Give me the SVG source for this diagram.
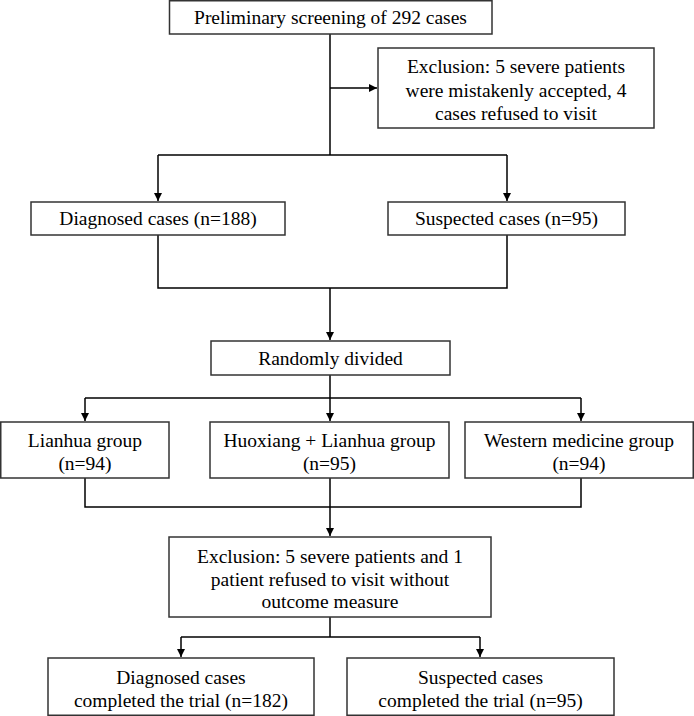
<svg xmlns="http://www.w3.org/2000/svg" width="694" height="716" viewBox="0 0 694 716">
<defs>
<style>
.box{fill:#fff;stroke:#333;stroke-width:1.5}
.t{font-family:"Liberation Serif","Times New Roman",serif;font-size:19.5px;fill:#000;text-anchor:middle}
.c{fill:none;stroke:#000;stroke-width:1.5}
</style>
<marker id="ah" viewBox="0 0 10 10" refX="10" refY="5" markerWidth="8" markerHeight="8" markerUnits="userSpaceOnUse" orient="auto">
<path d="M0,0 L10,5 L0,10 Z" fill="#000"/>
</marker>
</defs>
<rect width="694" height="716" fill="#fff"/>
<g id="connectors">
<path class="c" d="M330,34 V155"/>
<path class="c" d="M330,88 H377" marker-end="url(#ah)"/>
<path class="c" d="M158,155 H507"/>
<path class="c" d="M158,155 V201" marker-end="url(#ah)"/>
<path class="c" d="M507,155 V201" marker-end="url(#ah)"/>
<path class="c" d="M158,235 V288 H507 V235"/>
<path class="c" d="M330,288 V340" marker-end="url(#ah)"/>
<path class="c" d="M330,375 V398"/>
<path class="c" d="M85,398 H581"/>
<path class="c" d="M85,398 V421" marker-end="url(#ah)"/>
<path class="c" d="M330,398 V421" marker-end="url(#ah)"/>
<path class="c" d="M581,398 V421" marker-end="url(#ah)"/>
<path class="c" d="M85,478 V507 H581 V478"/>
<path class="c" d="M330,478 V536" marker-end="url(#ah)"/>
<path class="c" d="M330,617 V637"/>
<path class="c" d="M181,637 H480"/>
<path class="c" d="M181,637 V657" marker-end="url(#ah)"/>
<path class="c" d="M480,637 V657" marker-end="url(#ah)"/>
</g>
<g id="n1"><rect class="box" x="169.5" y="0.75" width="322.5" height="33.25"/><text class="t" x="330.5" y="24">Preliminary screening of 292 cases</text></g>
<g id="n2"><rect class="box" x="378" y="48" width="276" height="80"/><text class="t" x="516" y="73">Exclusion: 5 severe patients</text><text class="t" x="516" y="96.5">were mistakenly accepted, 4</text><text class="t" x="516" y="120">cases refused to visit</text></g>
<g id="n3"><rect class="box" x="31" y="202" width="254" height="33"/><text class="t" x="158" y="225">Diagnosed cases (n=188)</text></g>
<g id="n4"><rect class="box" x="388" y="202" width="237" height="33"/><text class="t" x="506.5" y="225">Suspected cases (n=95)</text></g>
<g id="n5"><rect class="box" x="211" y="341" width="239" height="34"/><text class="t" x="330.5" y="365">Randomly divided</text></g>
<g id="n6"><rect class="box" x="0.75" y="422" width="168.25" height="56"/><text class="t" x="85" y="447">Lianhua group</text><text class="t" x="85" y="470">(n=94)</text></g>
<g id="n7"><rect class="box" x="210" y="422" width="239" height="56"/><text class="t" x="329.5" y="447">Huoxiang + Lianhua group</text><text class="t" x="329.5" y="470">(n=95)</text></g>
<g id="n8"><rect class="box" x="465" y="422" width="228.25" height="56"/><text class="t" x="579" y="447">Western medicine group</text><text class="t" x="579" y="470">(n=94)</text></g>
<g id="n9"><rect class="box" x="169" y="537" width="322" height="80"/><text class="t" x="330" y="563">Exclusion: 5 severe patients and 1</text><text class="t" x="330" y="585.5">patient refused to visit without</text><text class="t" x="330" y="608">outcome measure</text></g>
<g id="n10"><rect class="box" x="48" y="658" width="266" height="57.25"/><text class="t" x="181" y="684">Diagnosed cases</text><text class="t" x="181" y="707">completed the trial (n=182)</text></g>
<g id="n11"><rect class="box" x="347" y="658" width="267" height="57.25"/><text class="t" x="480.5" y="684">Suspected cases</text><text class="t" x="480.5" y="707">completed the trial (n=95)</text></g>
</svg>
